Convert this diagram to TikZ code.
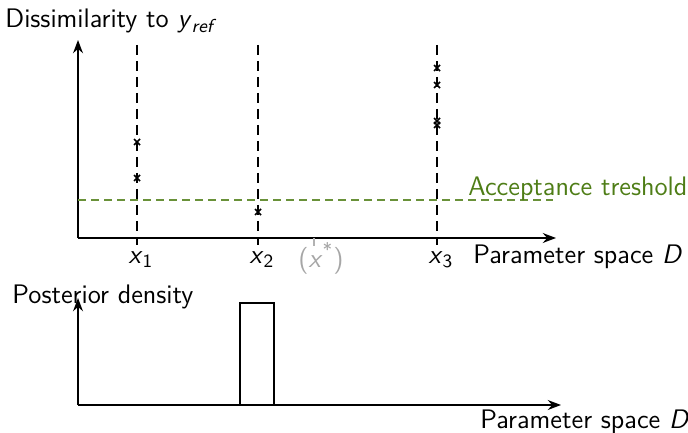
\documentclass[tikz,border=0pt]{standalone}
\usepackage{tikz}
\usetikzlibrary{arrows.meta,positioning,calc}
\definecolor{accgreen}{RGB}{78,125,22}
\tikzset{
  axis/.style={line width=0.8pt,-Stealth},
  sample/.style={line width=1pt,dash pattern=on 5pt off 3pt},
  thresh/.style={line width=0.8pt,accgreen!85,dash pattern=on 4pt off 2.5pt},
  lab/.style={font=\sffamily\fontsize{13.4}{15}\selectfont,inner sep=0pt},
  cross/.style={line width=0.8pt}
}
\newcommand{\xmark}[2]{\draw[cross] (#1-3,#2-3) -- (#1+3,#2+3) (#1-3,#2+3) -- (#1+3,#2-3);}
\newcommand{\sv}[2]{\textit{#1}\textsubscript{#2}}
\begin{document}
\begin{tikzpicture}[x=0.5pt,y=-0.5pt]
\useasboundingbox (0,0) rectangle (688,432);
% upper plot: dissimilarity
\coordinate (o1) at (78,238);
\coordinate (ytop1) at (78,40);
\coordinate (xend1) at (556,238);
\draw[axis] (o1) -- (ytop1);
\draw[axis] (o1) -- (xend1);
\node[lab,anchor=base west] (ylab1) at (5,28) {Dissimilarity to \sv{y}{\itshape ref}};
\node[lab,anchor=base west] (xlab1) at (473,263) {Parameter space \textit{D}};
\draw[thresh] (78,200) coordinate (t0) -- (553,200) coordinate (t1);
\node[lab,text=accgreen,anchor=base west] (tlab) at (468,196) {Acceptance treshold};
\foreach \x/\n in {137/1,258/2,437/3}{
  \coordinate (s\n) at (\x,45);
  \draw[sample] (s\n) -- (\x,238);
  \draw[line width=0.8pt] (\x,238) -- (\x,245);
  \node[lab,anchor=base] (x\n) at (\x+4,263) {\sv{x}{\n}};
}
\draw[gray!60,line width=0.8pt] (314,238) -- (314,246);
\node[lab,text=gray!70,anchor=base] (xstar) at (321,267) {(\textit{x}\textsuperscript{*})};
% sampled dissimilarities
\foreach \x/\y in {137/142,137/178,258/212,437/68,437/85,437/121,437/125}
  \xmark{\x}{\y}
% lower plot: posterior
\coordinate (o2) at (78,405);
\draw[axis] (o2) -- (78,298);
\draw[axis] (o2) -- (561,405);
\node[lab,anchor=base west] (ylab2) at (12,303) {Posterior density};
\node[lab,anchor=base west] (xlab2) at (480,428) {Parameter space \textit{D}};
\draw[line width=0.8pt] (240,405) rectangle (274,303);
\end{tikzpicture}
\end{document}
